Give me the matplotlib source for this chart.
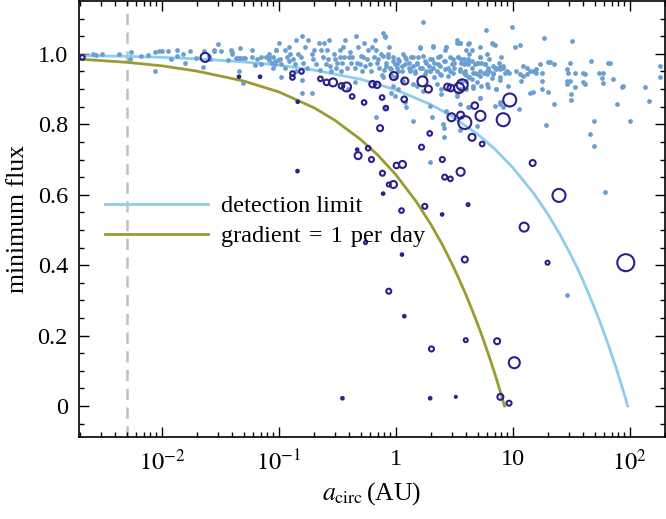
import numpy as np
import matplotlib
matplotlib.use('Agg')
import matplotlib.pyplot as plt

plt.rcParams['font.family'] = ['Liberation Serif', 'DejaVu Serif']
plt.rcParams['mathtext.fontset'] = 'stix'

# ---- curves (a in AU, minimum flux) ----
limit_a = [0.002, 0.005, 0.01, 0.02, 0.05, 0.1, 0.2, 0.5, 1, 2, 3, 5, 7, 10,
           15, 20, 25, 30, 35, 40, 45, 50, 55, 60, 65, 70, 75, 80, 85, 90,
           93, 96]
limit_flux = [0.995, 0.993, 0.99, 0.986, 0.977, 0.968, 0.954, 0.928, 0.898,
              0.856, 0.823, 0.772, 0.73, 0.677, 0.605, 0.544, 0.49, 0.441,
              0.397, 0.355, 0.315, 0.278, 0.243, 0.209, 0.177, 0.146, 0.116,
              0.087, 0.059, 0.032, 0.016, 0.0]

grad_a = [0.002, 0.005, 0.01, 0.02, 0.05, 0.1, 0.2, 0.3, 0.5, 0.7, 1, 1.5, 2,
          2.5, 3, 3.5, 4, 4.5, 5, 5.5, 6, 6.5, 7, 7.5, 8, 8.2, 8.5]
grad_flux = [0.985, 0.976, 0.966, 0.951, 0.923, 0.892, 0.847, 0.812, 0.757,
             0.713, 0.657, 0.58, 0.515, 0.458, 0.406, 0.358, 0.314, 0.272,
             0.233, 0.196, 0.16, 0.126, 0.093, 0.061, 0.03, 0.018, 0.0]

# ---- light blue sample (log10 a, flux) ----
sample_loga = [
    -2.59, -2.56, -2.51, -2.37, -2.26, -2.27, -2.18, -2.12, -2.06, -2.02, -2.00,
    -1.95, -1.87, -1.87, -1.92, -1.82, -1.80, -1.76, -2.06, -1.71, -1.64, -1.65,
    -1.60, -1.59, -1.55, -1.55, -1.49, -1.52, -1.43, -1.41, -1.40, -1.37, -1.35,
    -1.33, -1.33, -1.31, -1.29, -1.23, -1.23, -1.19, -1.20, -1.15, -1.15, -1.11,
    -1.08, -1.08, -1.06, -1.05, -1.02, -1.03, -1.01, -1.34, -1.31, -1.40,
    -0.80, -0.91, -0.85, -1.02, -0.95, -1.08, -1.05, -1.03, -0.99, -0.98, -0.93,
    -0.91, -0.88, -0.86, -0.84, -0.81, -0.79, -0.78, -0.75, -0.72, -0.71, -0.68,
    -0.66, -0.64, -0.62, -0.61, -0.59, -0.58, -0.56, -0.55, -0.52, -0.51, -0.48,
    -0.48, -0.46, -0.45, -0.44, -0.42, -0.40, -0.38, -0.37, -0.35, -0.34, -0.32,
    -0.31, -0.29, -0.28, -0.27, -0.25, -0.24, -0.22, -0.21, -0.19, -0.18, -0.17,
    -0.15, -0.14, -0.12, -0.11, -0.09, -0.08, -0.07, -0.05, -0.04, -0.02, -0.01,
    0.01, 0.02, 0.03, 0.05, 0.06, 0.08, 0.09, 0.11, 0.12, 0.13, 0.15, 0.16, 0.18,
    0.19, 0.21, 0.22, 0.23, 0.25, 0.26, 0.28, 0.29, 0.31, 0.32, 0.33, 0.35, 0.36,
    0.38, 0.39, 0.41, 0.42, 0.43, 0.45, 0.46, 0.48, 0.49, 0.50, 0.52, 0.53, 0.55,
    0.56, 0.58, 0.59, 0.60, 0.62,
    -0.98, -0.80, -0.80, -0.72, -0.35, -0.41, -0.17, -0.04, 0.09, 0.18, 0.31,
    0.41, 0.41, 0.52, 0.02,
    0.55, 0.63, 0.65, 0.63, 0.65, 0.56, 0.59, 0.62, 0.68, 0.70, 0.72, 0.73, 0.76,
    0.78, 0.79, 0.82, 0.85, 0.83, 0.86, 0.90, 0.89, 0.92, 0.95, 0.99, 1.02, 1.06,
    0.77, 1.09, 1.12, 1.15, 1.23, 1.20, 1.27, 1.30, 1.32, 1.35, 1.49, 1.51, 1.67,
    1.81, 1.83, 2.26, 0.55, 0.58, 0.60, 0.63, 0.66, 0.69, 0.72, 0.75, 0.78, 0.80,
    0.83, 0.86, 0.89, 0.97, 1.03, 1.06, 1.09, 1.12, 1.17, 1.20, 1.25, 1.46, 1.47,
    1.53, 1.60, 1.62, 1.74, 1.77, 2.26,
    0.56, 0.60, 0.65, 0.69, 0.73, 0.79, 0.82, 0.86, 0.89, 0.96, 1.07, 1.15, 1.17,
    1.25, 1.25, 1.30, 1.46, 1.46, 1.49, 1.50, 1.50, 1.53, 1.60, 1.62, 1.76, 1.77,
    1.86, 1.93, 1.94, 2.13, 2.16, 0.55, 0.60, 0.66, 0.72, 0.62, 0.89, 0.92, 1.05,
    1.35, 1.89, 1.28, 1.66, 1.69, 1.69, 2.00, 0.55,
    1.79, 1.46, 0.29,
    -0.09, 0.21, 0.32, 0.43, 0.52, 0.62, 0.72, 0.83,
    -0.11, -0.07, -0.02, 0.02, 0.08, 0.11, 0.15, 0.18, 0.23, 0.26, 0.29, 0.32,
    0.36, 0.38, 0.42, 0.46, 0.50, 0.53, 0.58, 0.62, 0.65, 0.69, 0.72, 0.76,
    0.80, 0.85, 0.88, 0.92,
    -0.08, -0.04, 0.01, 0.05, 0.12, 0.16, 0.21, 0.25, 0.29, 0.33, 0.38, 0.42,
    0.45, 0.49, 0.55, 0.59, 0.63, 0.68, 0.72, 0.78, 0.83, 0.89, 0.93,
    -0.01, 0.06, 0.15, 0.35, 0.39, 0.58, 0.66, 0.78, 0.86, -0.02, -0.11, 0.23,
    0.39, 0.52, 0.72, 0.89, 0.08, 0.29, 0.43, 0.63, 0.85, 0.15, 0.40, 0.55,
    0.69, -0.08, -0.01,
    -1.00, -0.95, -0.90, -0.85, -0.76, -0.70, -0.65, -0.60, -0.57, -0.53, -0.50,
    -0.47, -0.43, -0.39, -0.33, -0.30, -0.26, -0.20, -0.16, -0.13, -0.10, -0.06,
]
sample_flux = [
    1.00, 0.997, 0.999, 0.999, 1.004, 0.985, 0.994, 0.997, 1.004, 1.007, 1.007,
    1.007, 1.010, 0.994, 0.985, 1.001, 0.975, 1.007, 0.950, 0.988, 1.007, 0.963,
    0.994, 0.985, 1.007, 1.010, 1.007, 1.029, 0.982, 1.010, 1.001, 0.988, 0.988,
    1.018, 0.988, 0.988, 0.988, 1.010, 0.992, 0.985, 0.969, 0.971, 0.992, 0.992,
    0.982, 1.001, 0.975, 0.961, 1.010, 0.971, 0.982, 0.950, 0.916, 1.004,
    1.05, 1.02, 1.04, 1.01, 1.01, 0.99, 0.99, 0.98, 0.985, 0.97, 0.99, 0.98,
    0.985, 0.97, 1.00, 0.99, 0.975, 1.02, 1.04, 1.00, 0.985, 0.97, 1.03, 1.01,
    0.99, 1.03, 1.01, 0.985, 0.965, 0.95, 0.985, 0.96, 1.01, 0.99, 0.975, 1.02,
    0.99, 0.96, 0.99, 0.975, 0.99, 0.96, 1.05, 1.02, 0.97, 0.95, 0.99, 1.03,
    0.985, 1.01, 0.97, 0.95, 0.99, 1.04, 1.01, 0.985, 0.96, 0.94, 1.06, 1.05,
    0.975, 1.00, 0.96, 0.94, 0.99, 0.97, 0.96, 0.95, 0.98, 0.965, 1.00, 0.97,
    0.985, 0.96, 0.95, 0.99, 0.965, 0.95, 0.975, 0.99, 1.02, 0.96, 1.09, 0.98,
    0.95, 0.965, 0.95, 0.985, 1.02, 0.975, 0.95, 0.99, 0.965, 0.94, 0.98, 1.01,
    1.02, 0.96, 0.95, 0.97, 0.985, 0.96, 1.04, 0.99, 1.03, 0.975, 0.985, 0.95,
    1.01, 0.98,
    0.935, 0.925, 0.89, 0.89, 0.92, 0.90, 0.82, 0.89, 0.85, 0.91, 0.82, 0.79,
    0.765, 0.89, 0.90,
    1.03, 1.03, 1.01, 1.00, 0.98, 0.985, 0.975, 0.97, 0.97, 0.975, 0.99, 0.975,
    0.97, 1.00, 0.96, 1.03, 1.025, 0.965, 0.96, 0.99, 0.963, 0.96, 0.95, 1.075,
    1.02, 1.025, 1.067, 0.965, 0.96, 0.95, 0.97, 0.957, 1.044, 0.978, 0.978,
    0.97, 0.975, 1.037, 0.98, 0.973, 0.973, 0.966, 0.95, 0.947, 0.94, 0.933,
    0.947, 0.944, 0.95, 0.947, 0.942, 0.95, 0.947, 0.957, 0.957, 0.947, 0.95,
    0.942, 0.938, 0.942, 0.95, 0.947, 0.947, 0.957, 0.947, 0.947, 0.947, 0.942,
    0.947, 0.947, 0.933,
    0.92, 0.924, 0.928, 0.919, 0.909, 0.907, 0.931, 0.90, 0.925, 0.909, 0.924,
    0.89, 0.893, 0.922, 0.90, 0.893, 0.924, 0.914, 0.922, 0.886, 0.869, 0.905,
    0.919, 0.914, 0.931, 0.916, 0.928, 0.907, 0.909, 0.905, 0.865, 0.90, 0.90,
    0.903, 0.874, 0.85, 0.858, 0.85, 0.843, 0.858, 0.858, 0.799, 0.772, 0.808,
    0.739, 0.808, 0.858,
    0.609, 0.316, 0.694,
    1.048, 1.016, 1.023, 1.020, 1.032, 1.029, 1.020, 1.027,
    0.994, 0.990, 0.980, 0.985, 0.991, 0.975, 0.990, 0.971, 0.994, 0.975, 0.985,
    0.961, 0.971, 0.994, 0.980, 0.991, 0.975, 0.990, 0.971, 0.985, 0.961, 0.975,
    0.990, 0.971, 0.985, 0.961, 0.975, 0.966,
    0.966, 0.957, 0.971, 0.952, 0.957, 0.947, 0.961, 0.942, 0.952, 0.933, 0.944,
    0.957, 0.938, 0.947, 0.957, 0.942, 0.933, 0.947, 0.938, 0.952, 0.942, 0.933,
    0.947,
    0.933, 0.924, 0.914, 0.914, 0.900, 0.904, 0.909, 0.914, 0.900, 0.909, 0.933,
    0.895, 0.886, 0.881, 0.876, 0.862, 0.862, 0.853, 0.839, 0.848, 0.853, 0.810,
    0.801, 0.783, 0.796, 0.848, 0.881,
    1.03, 0.96, 1.00, 0.95, 0.96, 1.01, 0.955, 0.97, 1.04, 1.00, 0.975, 0.95,
    1.04, 1.005, 0.975, 0.995, 0.965, 1.02, 0.975, 1.00, 0.955, 1.02,
]

# ---- dark systems (log10 a, flux, relative size) ----
sys_loga = [-2.68, -1.63, -1.34, -1.16, -0.883, -0.883, -0.806, -0.838, -0.644,
            -0.592, -0.536, -0.464, -0.421, -0.373, -0.271, -0.199, -0.16,
            -0.117, -0.085, -0.134, -0.017, 0.077, 0.072, 0.228, 0.279, 0.29,
            0.22, -0.33, -0.236, 0.442, 0.47, 0.541, 0.568, 0.476, 0.554, 0.59,
            0.675, 0.724, 0.652, 0.738, 0.974, 0.918, -0.322, -0.208, -0.84,
            -0.114, -0.02, 0.006, 0.057, -0.06, -0.108, 0.049, 0.248, 0.398,
            0.396, 0.418, 0.467, 0.554, 0.618, 0.59, -0.259, 0.053, -0.06, 1.17,
            1.395, 1.097, 1.297, 1.966, 0.598, 0.866, 1.013, 0.894, 0.968, 0.073,
            0.305, -0.456, 0.294, 0.513]
sys_flux = [0.99, 0.99, 0.935, 0.935, 0.944, 0.933, 0.95, 0.864, 0.929, 0.919,
            0.919, 0.909, 0.906, 0.879, 0.862, 0.914, 0.912, 0.876, 0.846,
            0.789, 0.937, 0.923, 0.871, 0.922, 0.90, 0.774, 0.735, 0.728, 0.732,
            0.906, 0.903, 0.903, 0.912, 0.82, 0.826, 0.805, 0.853, 0.824, 0.763,
            0.744, 0.869, 0.813, 0.711, 0.70, 0.667, 0.661, 0.629, 0.683, 0.686,
            0.629, 0.603, 0.555, 0.567, 0.70, 0.544, 0.65, 0.645, 0.665, 0.572,
            0.416, 0.464, 0.43, 0.326, 0.69, 0.598, 0.508, 0.407, 0.407, 0.187,
            0.184, 0.123, 0.026, 0.008, 0.255, 0.162, 0.022, 0.022, 0.026]
sys_size = [2.5, 4.5, 1.3, 1.3, 2.3, 2.3, 2.3, 1.3, 2.3, 2.8, 4, 2.8, 4.5, 2.3,
            2.3, 3.2, 3.2, 2.3, 2.3, 3, 4, 3.5, 2.8, 5, 3.5, 2.3, 2.5, 1.3, 2.3,
            3.3, 3.3, 5, 5.5, 4, 3.5, 6.5, 3.3, 5, 3.5, 2.3, 6.5, 6.5, 3.5, 2.5,
            1.3, 2.5, 3.5, 2.8, 3.5, 2, 1.3, 2.3, 2.5, 2.5, 1.3, 2.5, 2.3, 4, 1.5,
            3, 1.5, 1.3, 2.5, 3, 6.5, 4.5, 2, 8.5, 2, 3, 5.5, 3, 2.5, 1.3, 2.5,
            1.3, 1.3, 1.0]

dark = '#2c1f89'
blue_dot = '#6b9fd3'

fig = plt.figure(figsize=(6.66, 5.19), dpi=100)
ax = fig.add_axes([0.1186, 0.158, 0.8799, 0.840])

ax.axvline(0.005, color='#c0c0c0', lw=1.8, dashes=(4.5, 3), zorder=1)
ax.plot(limit_a, limit_flux, color='#8ecdee', lw=2, label='detection limit', zorder=2)
ax.plot(grad_a, grad_flux, color='#9a9b30', lw=2,
        label='gradient\u2004=\u20041\u2004per\u2004day', zorder=2)

ax.scatter(10 ** np.array(sample_loga), sample_flux, s=12, color=blue_dot,
           linewidths=0, zorder=3)
sz = (1.44 * np.array(sys_size)) ** 2
ax.scatter(10 ** np.array(sys_loga), sys_flux, s=sz, facecolors='none',
           edgecolors=dark, linewidths=1.5, zorder=4)

ax.set_xscale('log')
ax.set_xlim(0.00196, 200)
ax.set_ylim(-0.088, 1.15)

ax.set_xticks([0.01, 0.1, 1, 10, 100])
ax.set_xticklabels(['$10^{-2}$', '$10^{-1}$', '1', '10', '$10^{2}$'])
ax.set_yticks([0, 0.2, 0.4, 0.6, 0.8, 1.0])
ax.set_yticklabels(['0', '0.2', '0.4', '0.6', '0.8', '1.0'])
ax.set_yticks(np.arange(-0.05, 1.15, 0.05), minor=True)
ax.tick_params(which='both', direction='in', top=True, right=True, labelsize=17.5)
ax.tick_params(which='major', length=7, width=1)
ax.tick_params(which='minor', length=3.5, width=1)
ax.tick_params(axis='x', pad=9)
ax.tick_params(axis='y', pad=8)
for sp in ax.spines.values():
    sp.set_linewidth(1.2)

ax.set_xlabel('$a_\\mathrm{circ}\\,$(AU)', fontsize=18.5, labelpad=4)
ax.set_ylabel('minimum flux', fontsize=18.5, labelpad=6)

ax.legend(loc='upper left', bbox_to_anchor=(0.044, 0.555), frameon=False,
          fontsize=17.5, handlelength=4.25, handletextpad=0.55, borderpad=0,
          labelspacing=0.33, borderaxespad=0)

fig.savefig('out.png', dpi=100)
